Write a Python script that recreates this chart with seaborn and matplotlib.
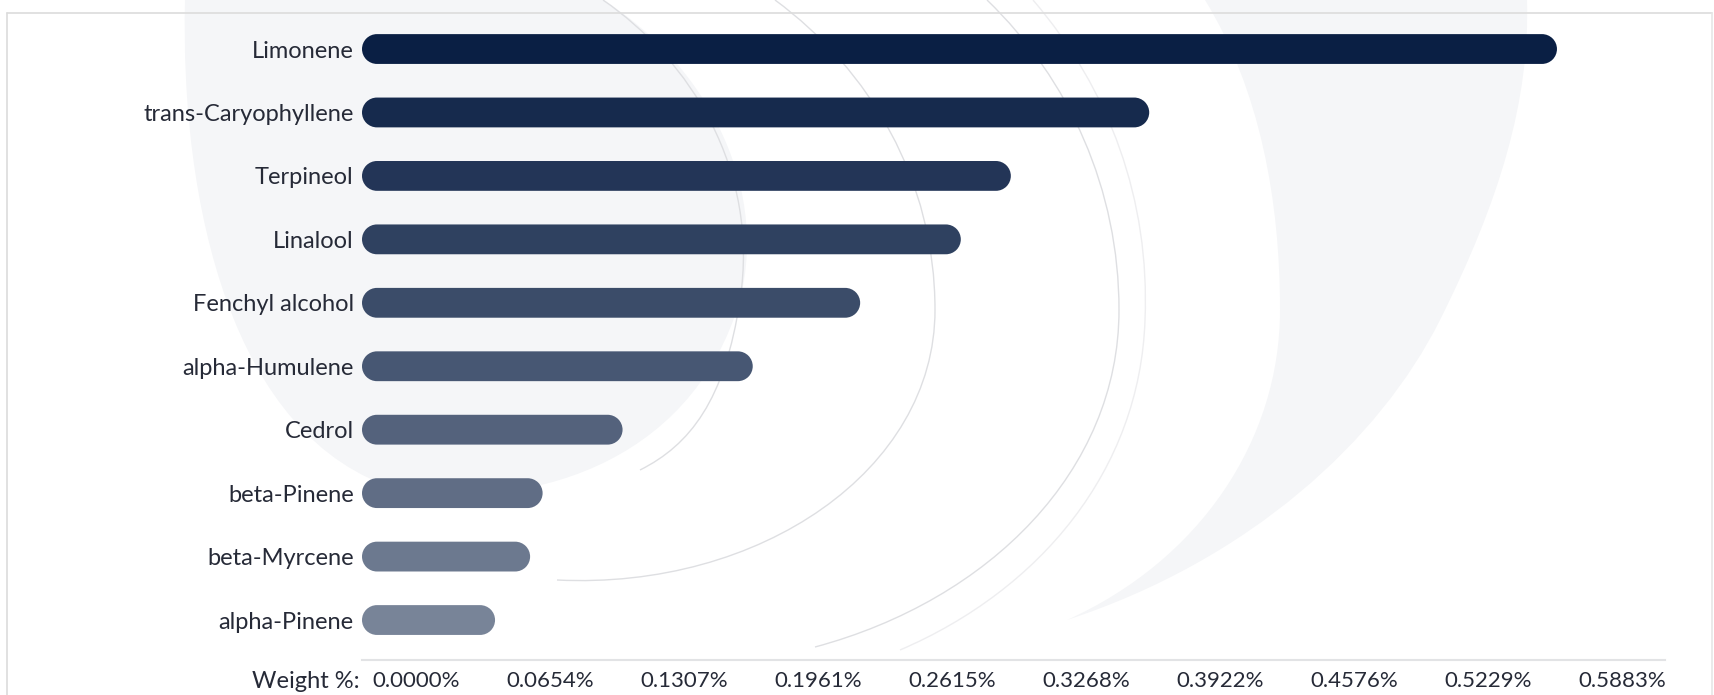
import numpy as np
import pandas as pd
import matplotlib
matplotlib.use("Agg")
import matplotlib.pyplot as plt
import seaborn as sns
from matplotlib.patches import PathPatch
from matplotlib.path import Path
from matplotlib.transforms import ScaledTranslation, IdentityTransform, Affine2D

# ---------------- data ----------------
compounds = ["Limonene", "trans-Caryophyllene", "Terpineol", "Linalool",
             "Fenchyl alcohol", "alpha-Humulene", "Cedrol", "beta-Pinene",
             "beta-Myrcene", "alpha-Pinene"]
weight_pct = [0.5829, 0.3840, 0.3165, 0.2921, 0.2430, 0.1906, 0.1271,
              0.0881, 0.0820, 0.0649]
tick_values = [0.0000, 0.0654, 0.1307, 0.1961, 0.2615, 0.3268, 0.3922,
               0.4576, 0.5229, 0.5883]
tick_labels = ["0.0000%", "0.0654%", "0.1307%", "0.1961%", "0.2615%",
               "0.3268%", "0.3922%", "0.4576%", "0.5229%", "0.5883%"]
axis_label = "Weight %:"

# ---------------- style ----------------
W, H, DPI = 1714, 695, 100
sns.set_theme(style="white")
plt.rcParams["font.family"] = ["Lato", "DejaVu Sans"]
TEXT = "#262a37"
NAVY = np.array([10, 31, 68]) / 255.0
colors = [tuple(NAVY * (1 - 0.05 * i) + (0.05 * i)) for i in range(len(compounds))]

fig = plt.figure(figsize=(W / DPI, H / DPI), dpi=DPI)
fig.patch.set_facecolor("white")

def fx(x):
    return x / W

def fy(y):
    return 1 - y / H

# ---------------- faint watermark (decoration) ----------------
def make_path(segs):
    verts, codes = [], []
    start = segs[0]
    verts.append((fx(start[0]), fy(start[1])))
    codes.append(Path.MOVETO)
    for seg in segs[1:]:
        for p in seg:
            verts.append((fx(p[0]), fy(p[1])))
            codes.append(Path.CURVE4)
    return Path(verts, codes)

WM_FILL = "#f5f6f8"
WM_LINE = "#dedfe2"
left_fill = make_path([(185, 0),
                       [(180, 200), (230, 440), (400, 490)],
                       [(520, 510), (690, 470), (740, 300)],
                       [(770, 180), (700, 60), (603, 0)],
                       [(500, 0), (300, 0), (185, 0)]])
fig.patches.append(PathPatch(left_fill, transform=fig.transFigure,
                             facecolor=WM_FILL, edgecolor="none", zorder=0))
right_fill = make_path([(1205, 0),
                        [(1260, 90), (1280, 200), (1280, 310)],
                        [(1280, 440), (1200, 560), (1067, 620)],
                        [(1250, 560), (1380, 440), (1440, 320)],
                        [(1500, 200), (1530, 100), (1527, 0)],
                        [(1400, 0), (1300, 0), (1205, 0)]])
fig.patches.append(PathPatch(right_fill, transform=fig.transFigure,
                             facecolor=WM_FILL, edgecolor="none", zorder=0))
arcA = make_path([(603, 0), [(690, 60), (760, 170), (740, 300)],
                  [(725, 400), (690, 445), (640, 470)]])
arcB = make_path([(775, 0), [(870, 70), (935, 180), (935, 310)],
                  [(935, 470), (760, 590), (557, 580)]])
arcC = make_path([(987, 0), [(1070, 80), (1119, 190), (1119, 310)],
                  [(1119, 470), (990, 600), (815, 647)]])
for p in (arcA, arcB, arcC):
    fig.patches.append(PathPatch(p, transform=fig.transFigure, facecolor="none",
                                 edgecolor=WM_LINE, lw=1.0, zorder=0))
arcC2 = make_path([(1033, 0), [(1110, 90), (1150, 200), (1145, 320)],
                   [(1140, 470), (1040, 590), (900, 650)]])
fig.patches.append(PathPatch(arcC2, transform=fig.transFigure, facecolor="none",
                             edgecolor="#eeeef0", lw=1.0, zorder=0))

# frame lines
fig.add_artist(plt.Line2D([fx(7), fx(1712)], [fy(13), fy(13)], transform=fig.transFigure,
                          color="#dcdcdc", lw=1.2, zorder=1))
fig.add_artist(plt.Line2D([fx(7), fx(7)], [fy(13), fy(695)], transform=fig.transFigure,
                          color="#dcdcdc", lw=1.2, zorder=1))
fig.add_artist(plt.Line2D([fx(1712), fx(1712)], [fy(13), fy(695)], transform=fig.transFigure,
                          color="#e6e6e6", lw=1.2, zorder=1))

# ---------------- axes ----------------
ax_l, ax_r, ax_t, ax_b = 362, 1665, 14, 660
ax = fig.add_axes([fx(ax_l), fy(ax_b), fx(ax_r - ax_l), (ax_b - ax_t) / H])
ax.set_zorder(3)
ax.patch.set_alpha(0)

df = pd.DataFrame({"compound": compounds, "weight": weight_pct})
sns.barplot(data=df, x="weight", y="compound", hue="compound", palette=colors,
            orient="h", width=0.47, legend=False, ax=ax, saturation=1)

xmax = 0.6356
ax.set_xlim(0, xmax)
ax.set_ylim(9.63, -0.552)


def pill_path(xl, xr, yb, yt):
    rad = (yt - yb) / 2
    yc = (yb + yt) / 2
    right = Path.arc(-90, 90)
    left = Path.arc(90, 270)
    rv = Affine2D().scale(rad).translate(xr - rad, yc).transform(right.vertices)
    lv = Affine2D().scale(rad).translate(xl + rad, yc).transform(left.vertices)
    rc = right.codes.copy()
    lc = left.codes.copy()
    rc[0] = Path.LINETO
    lc[0] = Path.LINETO
    verts = np.vstack([[(xl + rad, yb)], rv, lv, [(xl + rad, yb)]])
    codes = np.concatenate([[Path.MOVETO], rc, lc, [Path.CLOSEPOLY]])
    return Path(verts, codes)


# replace rectangles with pill-shaped bars (positions from the axes' data transform)
bars = list(ax.patches)
for r in bars:
    x0, y0 = r.get_x(), r.get_y()
    w, h = r.get_width(), r.get_height()
    (px0, py0), (px1, py1) = ax.transData.transform([(x0, y0), (x0 + w, y0 + h)])
    pp = PathPatch(pill_path(min(px0, px1), max(px0, px1), min(py0, py1), max(py0, py1)),
                   transform=IdentityTransform(), facecolor=r.get_facecolor(),
                   edgecolor="none", zorder=3)
    r.remove()
    ax.add_artist(pp)

# axis styling
for s in ("top", "right", "left"):
    ax.spines[s].set_visible(False)
ax.spines["bottom"].set_color("#e2e3e5")
ax.spines["bottom"].set_linewidth(1.5)
ax.set_xlabel("")
ax.set_ylabel("")
ax.tick_params(axis="y", length=0, pad=6, labelsize=17, labelcolor=TEXT)
ax.tick_params(axis="x", length=0, pad=8, labelsize=16, labelcolor=TEXT)
ax.set_xticks(tick_values)
ax.set_xticklabels(tick_labels)
offset = ScaledTranslation(10 / DPI, 0, fig.dpi_scale_trans)
for lab in ax.get_xticklabels():
    lab.set_horizontalalignment("left")
    lab.set_transform(lab.get_transform() + offset)

fig.text(fx(360), fy(682), axis_label, ha="right", va="center",
         fontsize=17, color=TEXT, family=["Lato", "DejaVu Sans"])

fig.savefig("out.png", dpi=DPI, facecolor="white")
